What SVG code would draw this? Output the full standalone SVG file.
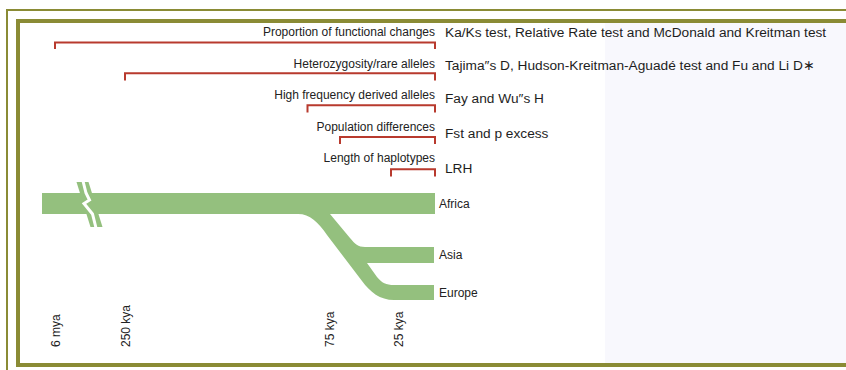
<svg xmlns="http://www.w3.org/2000/svg" width="846" height="370" viewBox="0 0 846 370">
<style>
.frame{fill:none;stroke:#8a8b35}
.br{fill:none;stroke:#b83a2e;stroke-width:2}
.lab{font-family:"Liberation Sans",Arial,sans-serif;font-size:12px;fill:#222}
.test{font-family:"Liberation Sans",Arial,sans-serif;font-size:13.7px;fill:#1e1e1e}
.green{fill:#94c07e}
</style>
<rect width="846" height="370" fill="#ffffff"/>
<rect x="605" y="23" width="241" height="340" fill="#f8f8fd"/>
<g id="frame">
<line class="frame" x1="6" y1="10" x2="846" y2="10" stroke-width="2"/>
<line class="frame" x1="7" y1="9" x2="7" y2="370" stroke-width="2"/>
<rect class="frame" x="18" y="21" width="840" height="344" stroke-width="4"/>
</g>
<g id="lineages">
<path class="green" d="M42 193 H435 V214 H330 L350 238 C355 244 358 247 365 247 H434 V263 H367 L377 277 C382 283 386 285 394 285 H434 V300 H394 C380 300 370 292 362 281 L327 235 C318 222 310 214 298 214 H42 Z"/>
<polygon class="green" points="76.5,182 88.5,182 102.5,227 90.5,227"/>
<polyline points="82.5,179 86,193 89.5,200 84,203.5 92.5,214 96.5,230" fill="none" stroke="#ffffff" stroke-width="3" stroke-linejoin="miter"/>
</g>
<g id="connectors">
<path class="br" d="M55 49 V42.5 H435 V49"/>
<path class="br" d="M125 80.5 V73.3 H435 V80.5"/>
<path class="br" d="M307.5 112.5 V105.3 H435 V112.5"/>
<path class="br" d="M340 144 V137 H435 V144"/>
<path class="br" d="M391 176.5 V169.2 H435 V176.5" stroke-width="3"/>
</g>
<g id="selection-measures" text-anchor="end">
<text class="lab" x="435" y="35.5">Proportion of functional changes</text>
<text class="lab" x="435" y="67.5">Heterozygosity/rare alleles</text>
<text class="lab" x="435" y="99">High frequency derived alleles</text>
<text class="lab" x="435" y="130.5">Population differences</text>
<text class="lab" x="435" y="162.3">Length of haplotypes</text>
</g>
<g id="tests">
<text class="test" x="445" y="36.7">Ka/Ks test, Relative Rate test and McDonald and Kreitman test</text>
<text class="test" x="445" y="69.5">Tajima″s D, Hudson-Kreitman-Aguadé test and Fu and Li D∗</text>
<text class="test" x="445" y="103">Fay and Wu″s H</text>
<text class="test" x="445" y="138">Fst and p excess</text>
<text class="test" x="445" y="173">LRH</text>
</g>
<g id="populations">
<text class="lab" x="439" y="208">Africa</text>
<text class="lab" x="439" y="259">Asia</text>
<text class="lab" x="439" y="297">Europe</text>
</g>
<g id="time-axis">
<text class="lab" transform="translate(60,347) rotate(-90)">6 mya</text>
<text class="lab" transform="translate(130,347) rotate(-90)">250 kya</text>
<text class="lab" transform="translate(333.5,347) rotate(-90)">75 kya</text>
<text class="lab" transform="translate(403,347) rotate(-90)">25 kya</text>
</g>
</svg>
